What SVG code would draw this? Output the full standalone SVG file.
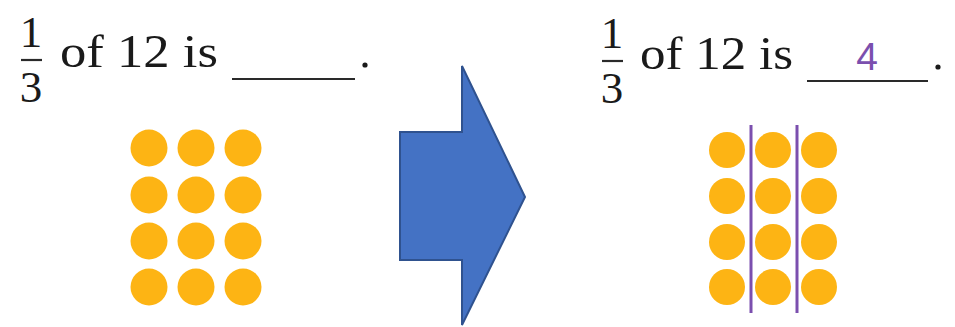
<svg xmlns="http://www.w3.org/2000/svg" width="955" height="327" viewBox="0 0 955 327">
<style>
.t{font-family:"Liberation Serif","DejaVu Serif",serif;fill:#1a1a1a}
.fr{font-family:"Liberation Serif","DejaVu Serif",serif;fill:#1a1a1a;font-size:45px;text-anchor:middle}
.dot{fill:#FDB414}
.line{stroke:#2a2a2a;stroke-width:2.2}
.cut{stroke:#7B4FAE;stroke-width:3}
.ans{font-family:"Liberation Sans","Open Sans",sans-serif;fill:#7B4FAE;font-size:39px}
</style>
<rect width="955" height="327" fill="#ffffff"/>
<g id="left-question">
<text class="fr" x="31" y="47">1</text>
<line class="line" x1="21" y1="60" x2="42" y2="60"/>
<text class="fr" x="31" y="102">3</text>
<text class="t" x="60" y="67" font-size="47" textLength="158" lengthAdjust="spacingAndGlyphs">of 12 is</text>
<line class="line" x1="232" y1="79" x2="355" y2="79"/>
<circle cx="365" cy="65" r="2.6" fill="#1a1a1a"/>
</g>
<g id="left-dots">
<circle class="dot" cx="149" cy="148" r="18.5"/><circle class="dot" cx="196" cy="148" r="18.5"/><circle class="dot" cx="243" cy="148" r="18.5"/>
<circle class="dot" cx="149" cy="195" r="18.5"/><circle class="dot" cx="196" cy="195" r="18.5"/><circle class="dot" cx="243" cy="195" r="18.5"/>
<circle class="dot" cx="149" cy="241" r="18.5"/><circle class="dot" cx="196" cy="241" r="18.5"/><circle class="dot" cx="243" cy="241" r="18.5"/>
<circle class="dot" cx="149" cy="287" r="18.5"/><circle class="dot" cx="196" cy="287" r="18.5"/><circle class="dot" cx="243" cy="287" r="18.5"/>
</g>
<g id="arrow">
<polygon points="400,132 462,132 462,66 525,197 462,325 462,260 400,260" fill="#4472C4" stroke="#2F528F" stroke-width="2" stroke-linejoin="miter"/>
</g>
<g id="right-question">
<text class="fr" x="612" y="48">1</text>
<line class="line" x1="602" y1="61" x2="623" y2="61"/>
<text class="fr" x="612" y="103">3</text>
<text class="t" x="640" y="69" font-size="47" textLength="153" lengthAdjust="spacingAndGlyphs">of 12 is</text>
<line class="line" x1="807" y1="81" x2="928" y2="81"/>
<text class="ans" x="867" y="70" text-anchor="middle">4</text>
<circle cx="938" cy="67" r="2.6" fill="#1a1a1a"/>
</g>
<g id="right-dots">
<circle class="dot" cx="727" cy="150" r="18"/><circle class="dot" cx="773" cy="150" r="18"/><circle class="dot" cx="819" cy="150" r="18"/>
<circle class="dot" cx="727" cy="196" r="18"/><circle class="dot" cx="773" cy="196" r="18"/><circle class="dot" cx="819" cy="196" r="18"/>
<circle class="dot" cx="727" cy="242" r="18"/><circle class="dot" cx="773" cy="242" r="18"/><circle class="dot" cx="819" cy="242" r="18"/>
<circle class="dot" cx="727" cy="287" r="18"/><circle class="dot" cx="773" cy="287" r="18"/><circle class="dot" cx="819" cy="287" r="18"/>
<line class="cut" x1="751" y1="125" x2="751" y2="313"/>
<line class="cut" x1="797" y1="125" x2="797" y2="313"/>
</g>
</svg>
